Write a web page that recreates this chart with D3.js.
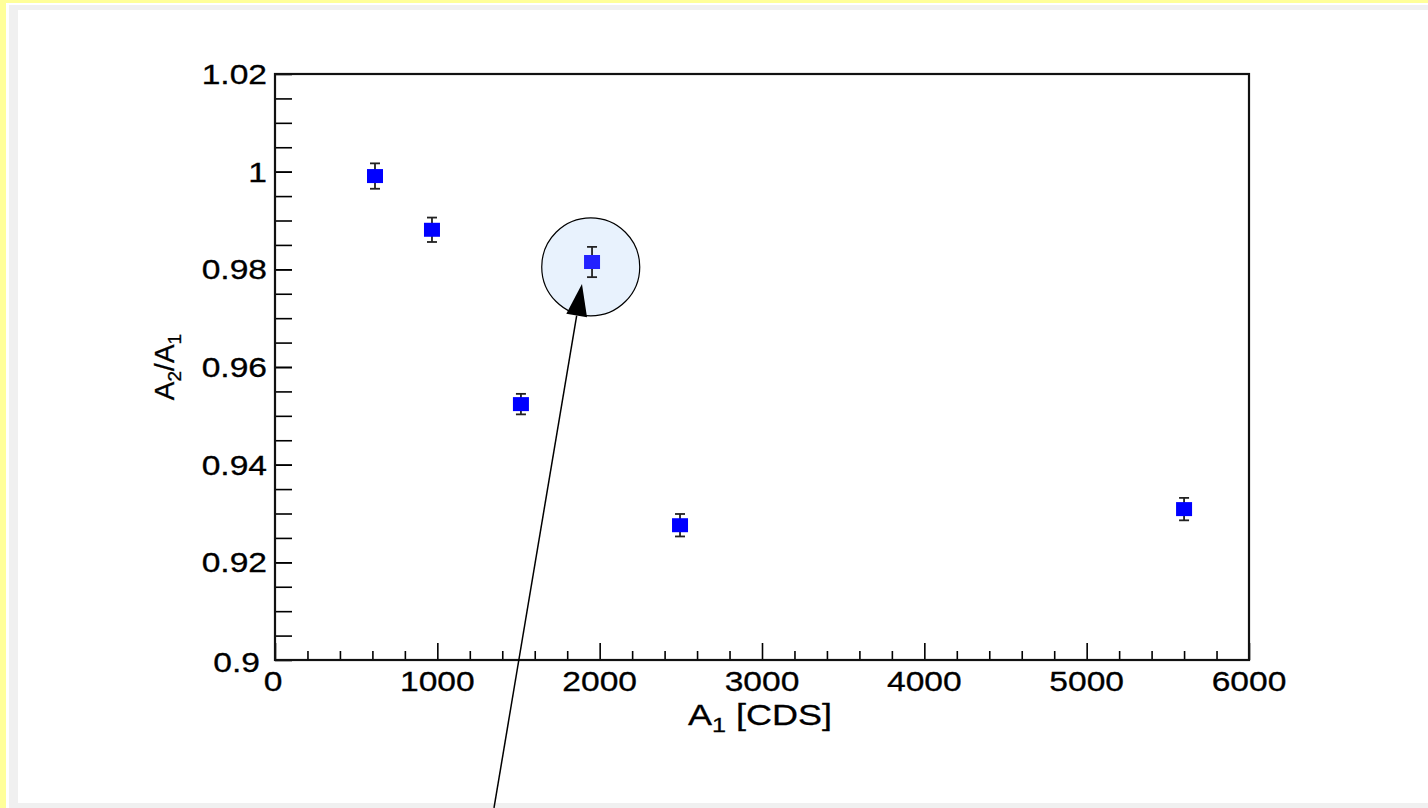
<!DOCTYPE html>
<html>
<head>
<meta charset="utf-8">
<script src="https://cdn.jsdelivr.net/npm/d3@7"></script>
<style>
  html, body { margin: 0; padding: 0; background: #ffffff; }
  svg { display: block; }
  text { font-family: "Liberation Sans", Arial, Helvetica, sans-serif; fill: #000; }
</style>
</head>
<body>
<svg id="chart" width="1428" height="808"></svg>
<script>
// Measured amplitude ratio A2/A1 against A1 (in CDS units)
const ampA1   = [616, 967, 1515, 1953, 2495, 5600];
const ratio   = [0.9991, 0.9881, 0.9524, 0.9815, 0.9276, 0.9309];
const ratioEr = [0.0026, 0.0025, 0.0021, 0.0031, 0.0023, 0.0023];
const highlightIndex = 3;

const xTickValues = [0, 1000, 2000, 3000, 4000, 5000, 6000];
const yTickValues = [0.9, 0.92, 0.94, 0.96, 0.98, 1.0, 1.02];

// annotation: circle around the highlighted point and an arrow pointing to it
const ringCenter = [1945, 0.9805];
const arrowTip = [1891, 0.9770];
const arrowTail = [1349, 0.8697];

(function draw() {
  const svg = d3.select("#chart");
  const W = 1428, H = 808;

  // page frame
  svg.append("rect").attr("x", 0).attr("y", 0).attr("width", W).attr("height", H).attr("fill", "#ffffff");
  svg.append("rect").attr("x", 0).attr("y", 0).attr("width", 6).attr("height", H).attr("fill", "#ffff99");
  svg.append("rect").attr("x", 0).attr("y", 0).attr("width", W).attr("height", 3).attr("fill", "#ffff99");
  svg.append("rect").attr("x", 9).attr("y", 5).attr("width", W - 9).attr("height", H - 5).attr("fill", "#f0f0f0");
  svg.append("rect").attr("x", 18).attr("y", 10).attr("width", W - 18).attr("height", 793).attr("fill", "#ffffff");

  const pl = 275, pr = 1249, pt = 74, pb = 660;
  const x = d3.scaleLinear().domain([0, 6000]).range([pl, pr]);
  const y = d3.scaleLinear().domain([0.9, 1.02]).range([pb, pt]);

  const SX = 1.2; // horizontal stretch of the lettering
  const fontSize = 28;

  // minor ticks
  const xMinor = d3.range(0, 6001, 200).filter(v => v % 1000 !== 0);
  const yMinor = d3.range(0, 25).map(i => 0.9 + i * 0.005).filter(v => v > 0.9 && v < 1.02);

  const gx = svg.append("g").attr("transform", `translate(0,${pb})`);
  gx.call(d3.axisTop(x).tickValues(xMinor).tickSize(9).tickFormat(""));
  gx.call(g => g.select(".domain").remove());
  const gxMaj = svg.append("g").attr("transform", `translate(0,${pb})`);
  gxMaj.call(d3.axisTop(x).tickValues(xTickValues).tickSize(17).tickFormat(""));
  gxMaj.call(g => g.select(".domain").remove());

  const gy = svg.append("g").attr("transform", `translate(${pl},0)`);
  gy.call(d3.axisRight(y).tickValues(yMinor.concat(yTickValues)).tickSize(17).tickFormat(""));
  gy.call(g => g.select(".domain").remove());

  svg.selectAll("g.tick line").attr("stroke", "#000").attr("stroke-width", 1.6);

  // frame
  svg.append("rect").attr("x", pl).attr("y", pt).attr("width", pr - pl).attr("height", pb - pt)
    .attr("fill", "none").attr("stroke", "#111").attr("stroke-width", 2.2);

  // tick labels
  const fmtY = v => (v === 1 ? "1" : d3.format(".2~f")(v));
  svg.append("g").selectAll("text").data(yTickValues).join("text")
    .attr("transform", (d, i) => `translate(${pl - 8 - (i === 0 ? 7 : 0)},${y(d) + 10 + (i === 0 ? 2 : 0)}) scale(${SX},1)`)
    .attr("text-anchor", "end").attr("font-size", fontSize)
    .attr("stroke", "#000").attr("stroke-width", 0.3)
    .text(fmtY);

  svg.append("g").selectAll("text").data(xTickValues).join("text")
    .attr("transform", d => `translate(${x(d) - (d === 0 ? 2 : 0)},691) scale(${SX},1)`)
    .attr("text-anchor", "middle").attr("font-size", fontSize)
    .attr("stroke", "#000").attr("stroke-width", 0.3)
    .text(d => d3.format("d")(d));

  // axis titles
  const xt = svg.append("text")
    .attr("transform", `translate(${(pl + pr) / 2 - 2},725) scale(${SX},1)`)
    .attr("text-anchor", "middle").attr("font-size", 30)
    .attr("stroke", "#000").attr("stroke-width", 0.3);
  xt.append("tspan").text("A");
  xt.append("tspan").attr("font-size", 21).attr("dy", 7).text("1");
  xt.append("tspan").attr("dy", -7).text(" [CDS]");

  const yt = svg.append("text")
    .attr("transform", `translate(174,${(pt + pb) / 2}) rotate(-90)`)
    .attr("text-anchor", "middle").attr("font-size", fontSize)
    .attr("stroke", "#000").attr("stroke-width", 0.3);
  yt.append("tspan").text("A");
  yt.append("tspan").attr("font-size", 19).attr("dy", 7).text("2");
  yt.append("tspan").attr("dy", -7).text("/A");
  yt.append("tspan").attr("font-size", 19).attr("dy", 7).text("1");

  // highlight ring
  svg.append("circle")
    .attr("cx", x(ringCenter[0])).attr("cy", y(ringCenter[1])).attr("r", 49)
    .attr("fill", "#e8f2fd").attr("stroke", "#000").attr("stroke-width", 1.2);

  // error bars and markers
  const pts = ampA1.map((a, i) => ({ a, r: ratio[i], e: ratioEr[i], hi: i === highlightIndex }));
  const cap = 5;
  const eb = svg.append("g").attr("stroke", "#222").attr("stroke-width", 1.8);
  pts.forEach(p => {
    const cx = x(p.a);
    eb.append("line").attr("x1", cx).attr("x2", cx).attr("y1", y(p.r + p.e)).attr("y2", y(p.r - p.e));
    eb.append("line").attr("x1", cx - cap).attr("x2", cx + cap).attr("y1", y(p.r + p.e)).attr("y2", y(p.r + p.e));
    eb.append("line").attr("x1", cx - cap).attr("x2", cx + cap).attr("y1", y(p.r - p.e)).attr("y2", y(p.r - p.e));
  });
  svg.append("g").selectAll("rect").data(pts).join("rect")
    .attr("x", d => x(d.a) - 8).attr("y", d => y(d.r) - 7)
    .attr("width", 16).attr("height", 14)
    .attr("fill", d => d.hi ? "#2222ff" : "#0000ff");

  // arrow
  const tip = [x(arrowTip[0]), y(arrowTip[1])];
  const tail = [x(arrowTail[0]), y(arrowTail[1])];
  const dx = tip[0] - tail[0], dy = tip[1] - tail[1];
  const len = Math.hypot(dx, dy);
  const ux = dx / len, uy = dy / len;
  const headLen = 32, headHalf = 10.5;
  const base = [tip[0] - ux * headLen, tip[1] - uy * headLen];
  svg.append("line")
    .attr("x1", tail[0]).attr("y1", tail[1]).attr("x2", base[0]).attr("y2", base[1])
    .attr("stroke", "#000").attr("stroke-width", 1.5);
  svg.append("polygon")
    .attr("points", [
      tip,
      [base[0] - uy * headHalf, base[1] + ux * headHalf],
      [base[0] + uy * headHalf, base[1] - ux * headHalf]
    ].map(p => p.join(",")).join(" "))
    .attr("fill", "#000");
})();
</script>
</body>
</html>
